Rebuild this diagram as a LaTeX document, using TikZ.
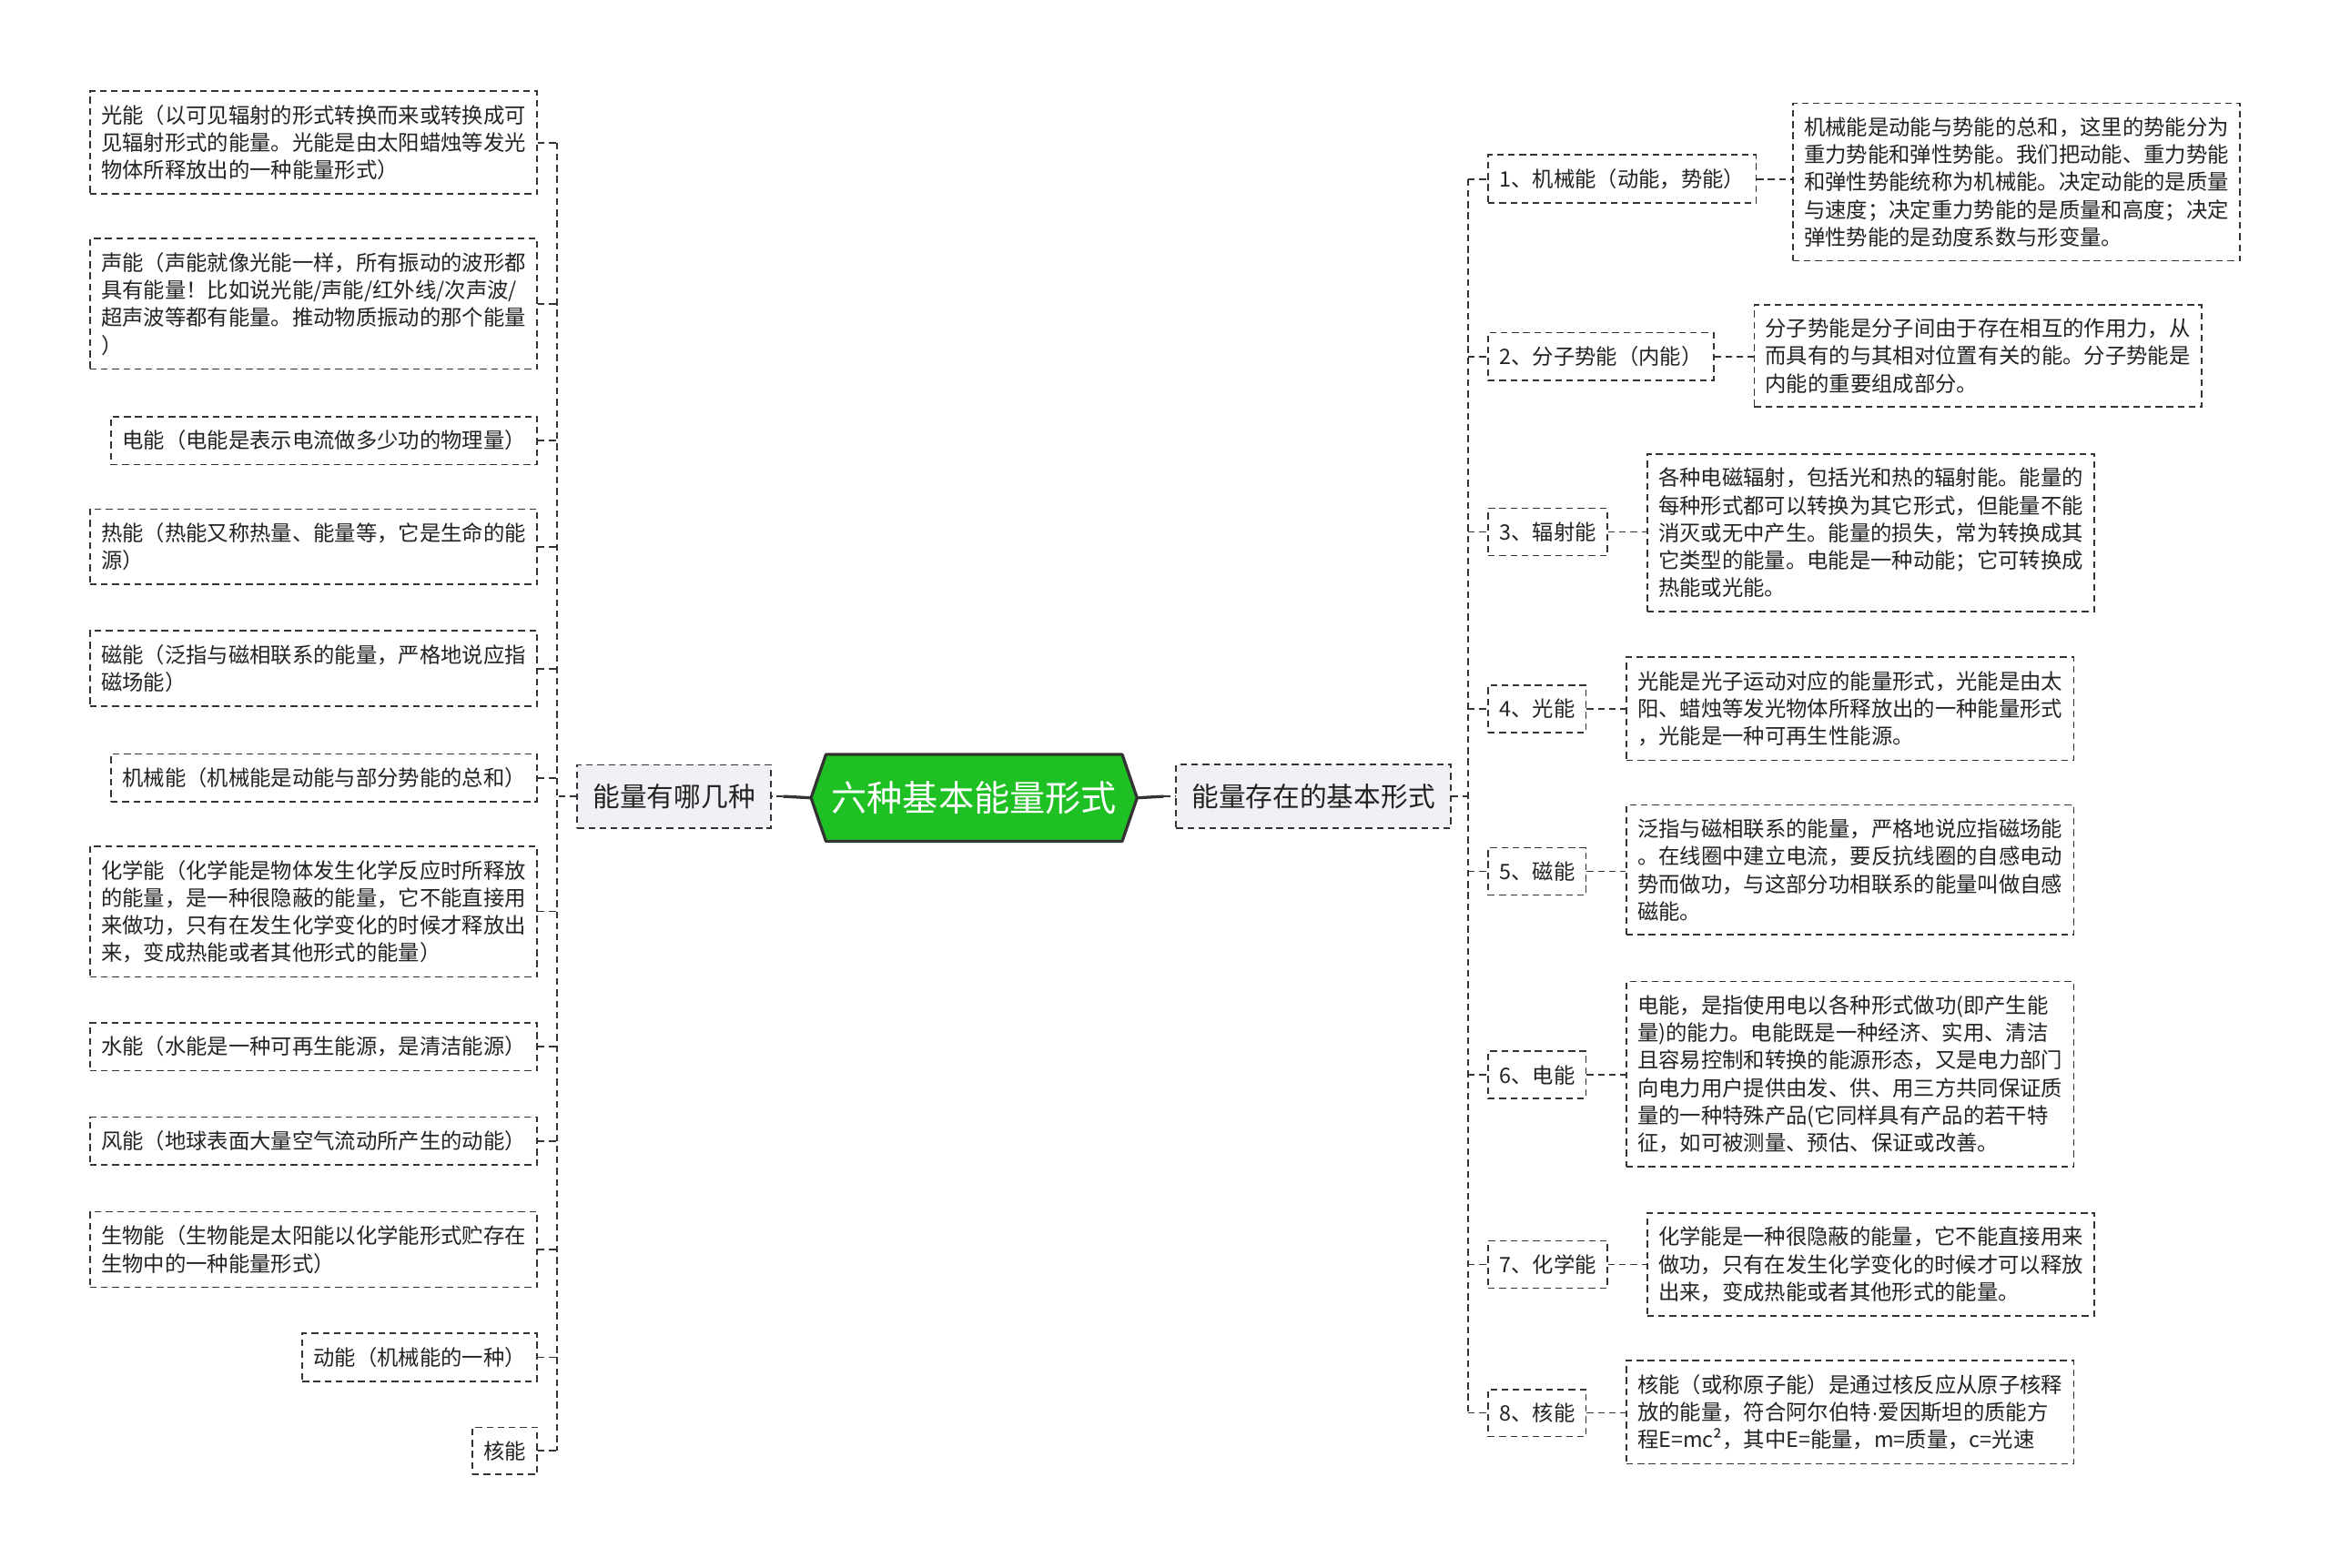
\documentclass[tikz,border=0pt]{standalone}
\usepackage{fontspec}
\setmainfont{Noto Sans CJK SC}
\newfontfamily\latinf{Liberation Sans}
\usetikzlibrary{backgrounds}
\definecolor{lineC}{HTML}{333333}
\definecolor{rootG}{HTML}{1EC024}
\definecolor{branchF}{HTML}{EFF1F4}
\definecolor{txtC}{HTML}{222222}
\begin{document}
\begin{tikzpicture}[x=1pt,y=-1pt,
  dashln/.style={draw=lineC, line width=1pt, dash pattern=on 4.5pt off 3pt},
  box/.style={dashln, inner xsep=7.5pt, inner ysep=9.3pt, align=left,
    font=\fontsize{14.3}{18.5}\selectfont, text=txtC},
  leafL/.style={box, anchor=east},
  leafR/.style={box, anchor=west},
  branch/.style={dashln, fill=branchF, inner xsep=10.5pt, inner ysep=12.9pt,
    font=\fontsize{18.2}{22}\selectfont, text=txtC, anchor=west},
  conn/.style={dashln},
  solidconn/.style={draw=lineC, line width=2pt}
]
\useasboundingbox (0,0) rectangle (1568,1055);

% root
\node[minimum width=219pt, minimum height=58pt, inner sep=0pt, text=white,
  font=\fontsize{24}{28}\selectfont] (root) at (655.5,537) {六种基本能量形式};
\begin{scope}[on background layer]
\draw[fill=rootG, draw=lineC, line width=2pt, line join=round]
  (root.west) -- ([xshift=10pt]root.north west) -- ([xshift=-10pt]root.north east)
  -- (root.east) -- ([xshift=-10pt]root.south east) -- ([xshift=10pt]root.south west) -- cycle;
\end{scope}

% branches
\node[branch] (lb) at (388,536) {能量有哪几种};
\node[branch] (rb) at (791,536) {能量存在的基本形式};
\coordinate (ljoin) at (527,536);
\coordinate (rjoin) at (783,536);
\draw[solidconn] (root.west) -- (ljoin);
\draw[conn] (ljoin) -- (lb.east);
\draw[solidconn] (root.east) -- (rjoin);
\draw[conn] (rjoin) -- (rb.west);

% left leaves
\node[leafL] (l1) at (362,96) {光能（以可见辐射的形式转换而来或转换成可\\见辐射形式的能量。光能是由太阳蜡烛等发光\\物体所释放出的一种能量形式）};
\node[leafL] (l2) at (362,204.5) {声能（声能就像光能一样，所有振动的波形都\\具有能量！比如说光能/声能/红外线/次声波/\\超声波等都有能量。推动物质振动的那个能量\\）};
\node[leafL] (l3) at (362,296.5) {电能（电能是表示电流做多少功的物理量）};
\node[leafL] (l4) at (362,368) {热能（热能又称热量、能量等，它是生命的能\\源）};
\node[leafL] (l5) at (362,450) {磁能（泛指与磁相联系的能量，严格地说应指\\磁场能）};
\node[leafL] (l6) at (362,523.5) {机械能（机械能是动能与部分势能的总和）};
\node[leafL] (l7) at (362,613.5) {化学能（化学能是物体发生化学反应时所释放\\的能量，是一种很隐蔽的能量，它不能直接用\\来做功，只有在发生化学变化的时候才释放出\\来，变成热能或者其他形式的能量）};
\node[leafL] (l8) at (362,704.5) {水能（水能是一种可再生能源，是清洁能源）};
\node[leafL] (l9) at (362,768) {风能（地球表面大量空气流动所产生的动能）};
\node[leafL] (l10) at (362,841) {生物能（生物能是太阳能以化学能形式贮存在\\生物中的一种能量形式）};
\node[leafL] (l11) at (362,913.5) {动能（机械能的一种）};
\node[leafL] (l12) at (362,976.5) {核能};

\coordinate (ltrunk) at (375,536);
\draw[conn] (lb.west) -- (ltrunk);
\draw[conn] (ltrunk |- l1.east) -- (ltrunk |- l12.east);
\foreach \n in {l1,l2,l3,l4,l5,l6,l7,l8,l9,l10,l11,l12}
  \draw[conn] (\n.east) -- (ltrunk |- \n.east);

% right middle
\node[leafR] (r1) at (1001,120.5) {1、机械能（动能，势能）};
\node[leafR] (r2) at (1001,240) {2、分子势能（内能）};
\node[leafR] (r3) at (1001,358) {3、辐射能};
\node[leafR] (r4) at (1001,477) {4、光能};
\node[leafR] (r5) at (1001,586.5) {5、磁能};
\node[leafR] (r6) at (1001,723.5) {6、电能};
\node[leafR] (r7) at (1001,851) {7、化学能};
\node[leafR] (r8) at (1001,951) {8、核能};

\coordinate (rtrunk) at (988,536);
\draw[conn] (rb.east) -- (rtrunk);
\draw[conn] (rtrunk |- r1.west) -- (rtrunk |- r8.west);
\foreach \n in {r1,r2,r3,r4,r5,r6,r7,r8}
  \draw[conn] (rtrunk |- \n.west) -- (\n.west);

% right details
\node[leafR] (d1) at (1206,122.5) {机械能是动能与势能的总和，这里的势能分为\\重力势能和弹性势能。我们把动能、重力势能\\和弹性势能统称为机械能。决定动能的是质量\\与速度；决定重力势能的是质量和高度；决定\\弹性势能的是劲度系数与形变量。};
\node[leafR] (d2) at (1180,239.5) {分子势能是分子间由于存在相互的作用力，从\\而具有的与其相对位置有关的能。分子势能是\\内能的重要组成部分。};
\node[leafR] (d3) at (1108,358.5) {各种电磁辐射，包括光和热的辐射能。能量的\\每种形式都可以转换为其它形式，但能量不能\\消灭或无中产生。能量的损失，常为转换成其\\它类型的能量。电能是一种动能；它可转换成\\热能或光能。};
\node[leafR] (d4) at (1094,477) {光能是光子运动对应的能量形式，光能是由太\\阳、蜡烛等发光物体所释放出的一种能量形式\\，光能是一种可再生性能源。};
\node[leafR] (d5) at (1094,585.5) {泛指与磁相联系的能量，严格地说应指磁场能\\。在线圈中建立电流，要反抗线圈的自感电动\\势而做功，与这部分功相联系的能量叫做自感\\磁能。};
\node[leafR] (d6) at (1094,723) {电能，是指使用电以各种形式做功(即产生能\\量)的能力。电能既是一种经济、实用、清洁\\且容易控制和转换的能源形态，又是电力部门\\向电力用户提供由发、供、用三方共同保证质\\量的一种特殊产品(它同样具有产品的若干特\\征，如可被测量、预估、保证或改善。};
\node[leafR] (d7) at (1108,851) {化学能是一种很隐蔽的能量，它不能直接用来\\做功，只有在发生化学变化的时候才可以释放\\出来，变成热能或者其他形式的能量。};
\node[leafR] (d8) at (1094,950.5) {核能（或称原子能）是通过核反应从原子核释\\放的能量，符合阿尔伯特{\latinf ·}爱因斯坦的质能方\\程E=mc²，其中E=能量，m=质量，c=光速};

\foreach \a/\b in {r1/d1,r2/d2,r3/d3,r4/d4,r5/d5,r6/d6,r7/d7,r8/d8}
  \draw[conn] (\a.east) -- (\a.east -| \b.west);
\end{tikzpicture}
\end{document}
